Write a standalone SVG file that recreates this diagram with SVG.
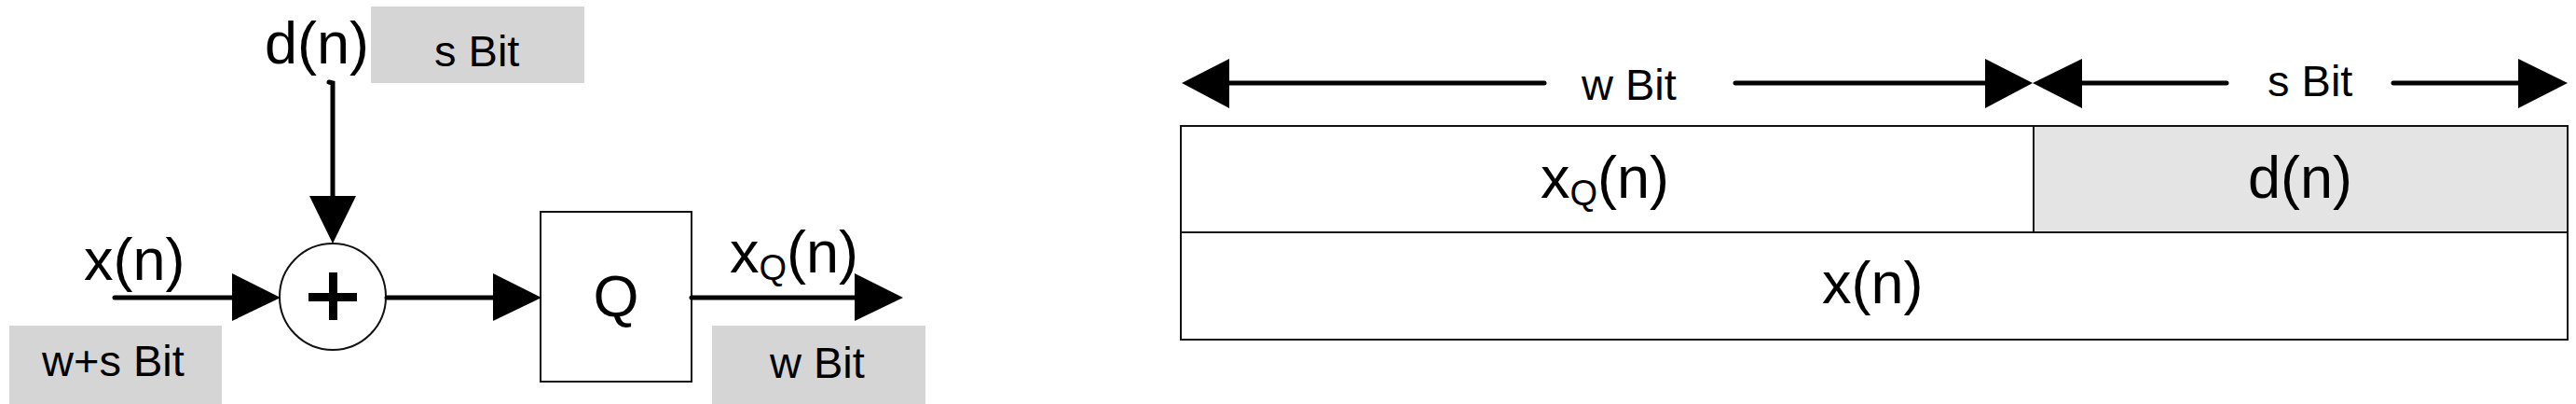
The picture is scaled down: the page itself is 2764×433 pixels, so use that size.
<svg xmlns="http://www.w3.org/2000/svg" width="2764" height="433" viewBox="0 0 2764 433">
<style>
text{font-family:"Liberation Sans",Arial,sans-serif;fill:#000}
.big{font-size:63px}
.sub{font-size:38px}
.lbl{font-size:47px}
.tag{fill:#d5d5d5}
.wire{stroke:#000;stroke-width:5;fill:none;stroke-linecap:round}
.head{fill:#000}
.thin{stroke:#111;stroke-width:2;fill:#fff}
</style>
<rect width="2764" height="433" fill="#fff"/>

<g id="labels">
  <rect class="tag" x="398" y="7" width="229" height="82"/>
  <text class="lbl" x="466" y="71">s Bit</text>
  <rect class="tag" x="10" y="349" width="228" height="84"/>
  <text class="lbl" x="45" y="403">w+s Bit</text>
  <rect class="tag" x="764" y="349" width="229" height="84"/>
  <text class="lbl" x="826" y="405">w Bit</text>
  <text class="big" x="284" y="68">d(n)</text>
  <text class="big" x="90" y="300">x(n)</text>
  <text class="big" x="783" y="292">x<tspan class="sub" dy="8">Q</tspan><tspan dy="-8">(n)</tspan></text>
</g>

<g id="adder">
  <circle class="thin" cx="357" cy="318" r="57"/>
  <rect x="331" y="314" width="52" height="9" fill="#000"/>
  <rect x="353" y="292" width="9" height="51" fill="#000"/>
</g>

<g id="quantizer">
  <rect class="thin" x="580" y="227" width="162" height="182"/>
  <text class="big" x="661" y="339" text-anchor="middle">Q</text>
</g>

<g id="connectors">
  <path class="wire" d="M353 88 L357 89 L357 212"/>
  <polygon class="head" points="332,210 382,210 357,261"/>
  <line class="wire" x1="123" y1="319" x2="252" y2="319"/>
  <polygon class="head" points="249,293 249,344 301,319"/>
  <line class="wire" x1="415" y1="319" x2="532" y2="319"/>
  <polygon class="head" points="529,293 529,344 581,319"/>
  <line class="wire" x1="742" y1="319" x2="920" y2="319"/>
  <polygon class="head" points="917,293 917,344 969,319"/>
</g>

<g id="word">
  <rect class="thin" x="1267" y="135" width="1488" height="229"/>
  <rect x="2182" y="135" width="573" height="114" fill="#e4e4e4" stroke="#111" stroke-width="2"/>
  <line x1="1267" y1="249" x2="2755" y2="249" stroke="#111" stroke-width="2"/>
  <text class="big" x="1653" y="212">x<tspan class="sub" dy="8">Q</tspan><tspan dy="-8">(n)</tspan></text>
  <text class="big" x="2412" y="212">d(n)</text>
  <text class="big" x="1955" y="325">x(n)</text>
</g>

<g id="dimensions">
  <line class="wire" x1="1316" y1="89" x2="1657" y2="89"/>
  <line class="wire" x1="1862" y1="89" x2="2133" y2="89"/>
  <polygon class="head" points="1268,89 1319,63 1319,116"/>
  <polygon class="head" points="2181,89 2130,63 2130,116"/>
  <text class="lbl" x="1697" y="107">w Bit</text>
  <line class="wire" x1="2231" y1="89" x2="2389" y2="89"/>
  <line class="wire" x1="2568" y1="89" x2="2705" y2="89"/>
  <polygon class="head" points="2181,89 2234,63 2234,116"/>
  <polygon class="head" points="2755,89 2702,63 2702,116"/>
  <text class="lbl" x="2433" y="103">s Bit</text>
</g>
</svg>
